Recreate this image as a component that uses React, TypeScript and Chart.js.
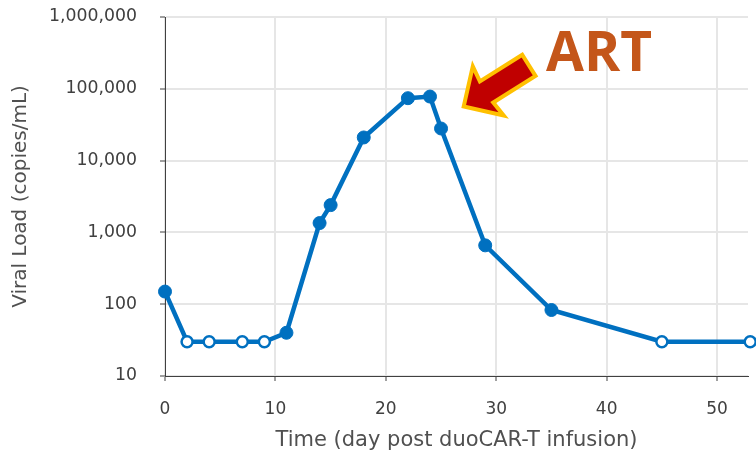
import { useEffect, useRef } from "react";
import { Chart, registerables } from "chart.js";

Chart.register(...registerables);

// Days after duoCAR-T infusion and plasma viral load (copies/mL)
const days = [0, 2, 4, 7, 9, 11, 14, 15, 18, 22, 24, 25, 29, 35, 45, 53];
const viralLoad = [150, 30, 30, 30, 30, 40, 1350, 2400, 21000, 74000, 78000, 28000, 660, 83, 30, 30];
// Samples below the assay's detection limit are drawn as open circles
const belowLimit = [false, true, true, true, true, false, false, false, false, false, false, false, false, false, true, true];

const yTickValues = [10, 100, 1000, 10000, 100000, 1000000];
const xTickValues = [0, 10, 20, 30, 40, 50];

const X_TITLE = "Time (day post duoCAR-T infusion)";
const Y_TITLE = "Viral Load (copies/mL)";
const ART_LABEL = "ART";

// Where the ART call-out points (tip of arrow) and where its label sits
const ART_TIP = { day: 26.9, load: 55000 };
const ART_TEXT = { day: 34.5, load: 175000 };

const BLUE = "#0070C0";
const TEXT = "#404040";
const TITLE_TEXT = "#505050";

const artCallout = {
  id: "artCallout",
  afterDatasetsDraw(chart: any) {
    const { ctx, scales } = chart;
    const x = scales.x;
    const y = scales.y;
    const tipX = x.getPixelForValue(ART_TIP.day);
    const tipY = y.getPixelForValue(ART_TIP.load);
    const angle = Math.atan2(-42.5, 67.5);

    ctx.save();
    ctx.translate(tipX, tipY);
    ctx.rotate(angle);
    ctx.beginPath();
    ctx.moveTo(2, 0);
    ctx.lineTo(31, -29);
    ctx.lineTo(29, -12.5);
    ctx.lineTo(79, -12.5);
    ctx.lineTo(79, 12.5);
    ctx.lineTo(29, 12.5);
    ctx.lineTo(31, 29);
    ctx.closePath();
    ctx.fillStyle = "#C00000";
    ctx.fill();
    ctx.lineJoin = "miter";
    ctx.lineWidth = 4;
    ctx.strokeStyle = "#FFC000";
    ctx.stroke();
    ctx.restore();

    ctx.save();
    ctx.font = "bold 55px 'Open Sans'";
    ctx.fillStyle = "#C4561A";
    ctx.textBaseline = "alphabetic";
    ctx.textAlign = "left";
    ctx.fillText(ART_LABEL, x.getPixelForValue(ART_TEXT.day), y.getPixelForValue(ART_TEXT.load));
    ctx.restore();
  },
};

export default function App() {
  const canvasRef = useRef<HTMLCanvasElement | null>(null);

  useEffect(() => {
    const canvas = canvasRef.current;
    if (!canvas) return;

    const points = days.map((d, i) => ({ x: d, y: viralLoad[i] }));

    const chart = new Chart(canvas, {
      type: "line",
      data: {
        datasets: [
          {
            data: points,
            borderColor: BLUE,
            borderWidth: 4.5,
            tension: 0,
            clip: false as any,
            pointRadius: belowLimit.map((b) => (b ? 5.5 : 6.5)),
            pointHoverRadius: belowLimit.map((b) => (b ? 5.5 : 6.5)),
            pointBackgroundColor: belowLimit.map((b) => (b ? "#ffffff" : BLUE)),
            pointBorderColor: BLUE,
            pointBorderWidth: belowLimit.map((b) => (b ? 2.5 : 1)),
          },
        ],
      },
      options: {
        responsive: false,
        animation: false,
        layout: { padding: { top: 17, right: 6, bottom: 0, left: 0 } },
        plugins: {
          legend: { display: false },
          tooltip: { enabled: false },
        },
        scales: {
          x: {
            type: "linear",
            min: 0,
            max: 52.8,
            afterBuildTicks: (scale: any) => {
              scale.ticks = xTickValues.map((v) => ({ value: v }));
            },
            afterFit: (scale: any) => {
              scale.height = 85;
              scale.paddingLeft = 0;
              scale.paddingRight = 0;
            },
            ticks: {
              color: TEXT,
              font: { family: "'DejaVu Sans'", size: 17 },
              padding: 18,
              maxRotation: 0,
              callback: (v: any) => String(v),
            },
            grid: {
              color: "#e6e6e6",
              lineWidth: 2,
              tickColor: "#404040",
              tickLength: 5,
              tickWidth: 1,
            },
            border: { color: "#404040", width: 1 },
            title: {
              display: true,
              text: X_TITLE,
              color: TITLE_TEXT,
              font: { family: "'DejaVu Sans'", size: 21 },
              padding: { top: 0, bottom: 8 },
            },
          },
          y: {
            type: "logarithmic",
            min: 10,
            max: 1000000,
            afterBuildTicks: (scale: any) => {
              scale.ticks = yTickValues.map((v) => ({ value: v }));
            },
            afterFit: (scale: any) => {
              scale.width = 165;
              scale.paddingTop = 0;
              scale.paddingBottom = 0;
            },
            ticks: {
              color: TEXT,
              font: { family: "'DejaVu Sans'", size: 17.3 },
              padding: 23,
              callback: (v: any) => Number(v).toLocaleString("en-US"),
            },
            grid: {
              color: "#e6e6e6",
              lineWidth: 2,
              tickColor: "#404040",
              tickLength: 5,
              tickWidth: 1,
            },
            border: { color: "#404040", width: 1 },
            title: {
              display: true,
              text: Y_TITLE,
              color: TITLE_TEXT,
              font: { family: "'DejaVu Sans'", size: 20 },
              padding: { top: 9, bottom: 0 },
            },
          },
        },
      },
      plugins: [artCallout],
    });

    return () => chart.destroy();
  }, []);

  return (
    <div style={{ position: "fixed", left: 0, top: 0, width: 756, height: 461, background: "#ffffff" }}>
      <canvas ref={canvasRef} width={756} height={461} />
    </div>
  );
}
